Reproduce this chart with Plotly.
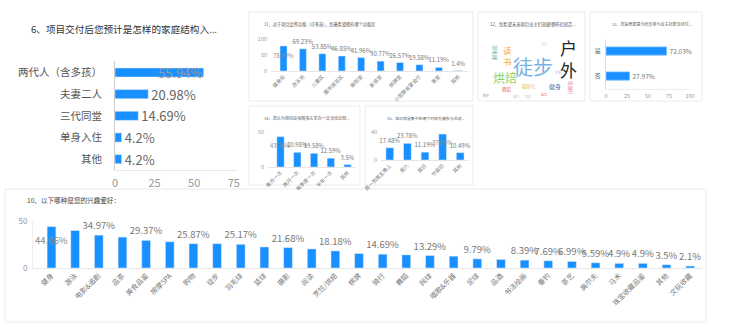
import plotly.graph_objects as go

W, H = 740, 327
BLUE = "#1890ff"
FONT = "Noto Sans CJK SC"

# ---- survey data ----
fam_cats = ["两代人（含多孩）", "夫妻二人", "三代同堂", "单身入住", "其他"]
fam_pct = [55.94, 20.98, 14.69, 4.2, 4.2]

venue_cats = ["健身房", "游泳池", "儿童区", "图书阅览区", "瑜伽室", "影音室",
              "棋牌室", "小型聚会宴会厅", "茶室", "其他"]
venue_pct = [78.32, 69.23, 53.85, 46.85, 41.96, 30.77, 26.57, 19.58, 11.19, 1.4]

club_words = ["户外", "徒步", "烘焙", "读书", "羽毛球", "舞蹈", "摄影社", "健身",
              "瑜伽社", "跑步", "钓鱼", "篮球", "茶艺", "书法", "骑行"]
club_weight = [17, 20, 12, 8.5, 5, 4.5, 4.5, 6, 4.5, 3, 3, 3, 3, 3, 3]

join_cats = ["是", "否"]
join_pct = [72.03, 27.97]

freq_cats = ["每月一次", "两月一次", "每季度一次", "半年一次", "其他"]
freq_pct = [43.36, 20.98, 19.58, 12.59, 3.5]

time_cats = ["周一到周五晚上", "周六", "周日", "节假日", "其他"]
time_pct = [17.48, 23.78, 11.19, 37.06, 10.49]

hobby_cats = ["健身", "游泳", "电影&追剧", "品茶", "美食品鉴", "按摩SPA", "购物", "徒步",
              "羽毛球", "篮球", "摄影", "阅读", "烹饪/烘焙", "棋牌", "骑行", "舞蹈",
              "网球", "唱歌&乐器", "足球", "品酒", "书法绘画", "垂钓", "茶艺", "高尔夫",
              "马术", "珠宝收藏品鉴", "其他", "文玩收藏"]
hobby_pct = [44.06, 39.86, 34.97, 32.87, 29.37, 27.97, 25.87, 25.87, 25.17, 22.38,
             21.68, 20.28, 18.18, 15.38, 14.69, 13.99, 13.29, 12.59, 9.79, 9.09,
             8.39, 7.69, 6.99, 5.59, 4.9, 4.9, 3.5, 2.1]

titles = {
    "t6": "6、项目交付后您预计是怎样的家庭结构入...",
    "t11": "11、对于项目会所功能（可多选），您最希望拥有哪个功能区",
    "t12": "12、您希望未来项目业主们创建哪些社团活...",
    "t13": "13、您是否愿意为同步参与业主社群活动付...",
    "t14": "14、您认为项目应每隔多久举办一次活动比较...",
    "t15": "15、您日常是集中在哪个时间方便参与活动...",
    "t10": "10、以下哪种是您的兴趣爱好：",
}


def px_x(x0, x1):
    return [x0 / W, x1 / W]


def px_y(y0, y1):
    return [1 - y1 / H, 1 - y0 / H]


def pct(v):
    return f"{v:g}%"


fig = go.Figure()
annotations = []
axes = {}


def add_title(text, x, y, size, color="#444"):
    annotations.append(dict(x=x / W, y=1 - y / H, xref="paper", yref="paper",
                            text=text, showarrow=False, xanchor="left", yanchor="middle",
                            font=dict(size=size, color=color)))


# ---- 6: family structure (horizontal bars) ----
imax = fam_pct.index(max(fam_pct))
fig.add_trace(go.Bar(
    y=fam_cats, x=fam_pct, orientation="h", xaxis="x", yaxis="y",
    marker_color=BLUE, width=0.42,
    text=["" if i == imax else pct(v) for i, v in enumerate(fam_pct)],
    textposition="outside", textangle=0, constraintext="none", cliponaxis=False,
    textfont=dict(size=13, color="#666"), hoverinfo="skip"))
annotations.append(dict(x=fam_pct[imax], y=fam_cats[imax], xref="x", yref="y",
                        text=pct(fam_pct[imax]), showarrow=False, xanchor="right",
                        yanchor="middle", font=dict(size=13, color="#9a9a9a")))
axes["xaxis"] = dict(domain=px_x(115, 237), range=[0, 77], tickvals=[0, 25, 50, 75],
                     anchor="y", showgrid=False, zeroline=False, showline=True,
                     linecolor="#e6e6e6", tickfont=dict(size=11, color="#999"),
                     ticklabelstandoff=3, automargin=False)
axes["yaxis"] = dict(domain=px_y(61, 170), type="category", autorange="reversed",
                     anchor="x", showgrid=False, zeroline=False, showline=True,
                     linecolor="#cccccc", tickfont=dict(size=10.5, color="#555"),
                     ticklabelstandoff=10, automargin=False)
add_title(titles["t6"], 29, 29, 9.6, "#333")


def column_chart(n, cats, vals, xdom, ydom, yrange, ytick, width, lab_size,
                 cat_size, tick_size, top_shift, shown=None, yline=False):
    ax = str(n)
    im = vals.index(max(vals))
    texts = []
    for i, v in enumerate(vals):
        if i == im or (shown is not None and not shown[i]):
            texts.append("")
        else:
            texts.append(pct(v))
    fig.add_trace(go.Bar(
        x=cats, y=vals, xaxis="x" + ax, yaxis="y" + ax, marker_color=BLUE,
        width=width, text=texts, textposition="outside", textangle=0,
        constraintext="none", cliponaxis=False,
        textfont=dict(size=lab_size, color="#777"), hoverinfo="skip"))
    annotations.append(dict(x=cats[im], y=vals[im], xref="x" + ax, yref="y" + ax,
                            text=pct(vals[im]), showarrow=False, yanchor="top",
                            yshift=-top_shift, font=dict(size=lab_size, color="#8a8a8a")))
    axes["xaxis" + ax] = dict(domain=xdom, anchor="y" + ax, type="category",
                              tickangle=-45, tickfont=dict(size=cat_size, color="#777"),
                              showline=True, linecolor="#e6e6e6", showgrid=False,
                              zeroline=False, ticks="", automargin=False)
    axes["yaxis" + ax] = dict(domain=ydom, anchor="x" + ax, range=yrange,
                              tickvals=ytick, showgrid=False, zeroline=False,
                              showline=yline, linecolor="#eeeeee",
                              tickfont=dict(size=tick_size, color="#999"),
                              ticklabelstandoff=3, automargin=False)


# ---- 11: preferred facilities ----
column_chart(2, venue_cats, venue_pct, px_x(271, 468), px_y(39, 71), [0, 100],
             [0, 50, 100], 0.36, 6, 5, 5.5, 3)
add_title(titles["t11"], 262, 24, 4.2, "#555")

# ---- 12: club word cloud ----
axes["xaxis3"] = dict(domain=px_x(478, 585), range=[0, 107], visible=False,
                      anchor="y3", automargin=False)
axes["yaxis3"] = dict(domain=px_y(30, 100), range=[70, 0], visible=False,
                      anchor="x3", automargin=False)
fig.add_trace(go.Scatter(x=[None], y=[None], xaxis="x3", yaxis="y3",
                         mode="markers", hoverinfo="skip"))
# word placement inside the cloud box: (x, y, angle, colour, stacked)
cloud_layout = {
    "户外": (90, 28, 0, "#222222", True),
    "徒步": (55, 36, 0, "#7ab2e3", False),
    "烘焙": (27, 47, 0, "#8fd35c", False),
    "读书": (30, 25.5, 0, "#f5a54a", True),
    "羽毛球": (18, 23, 90, "#4aa3a0", False),
    "舞蹈": (29, 59, 0, "#e86a6a", False),
    "摄影社": (51, 56, 0, "#e8c24a", False),
    "健身": (77, 56, 0, "#4a6fa5", False),
    "瑜伽社": (93, 58, 90, "#e27a95", False),
    "跑步": (8, 65, 0, "#9a9a9a", False),
    "钓鱼": (50, 66, 0, "#c9c9c9", False),
    "篮球": (66, 64, 0, "#f08080", False),
    "茶艺": (80, 42, 0, "#9cc7ee", False),
    "书法": (66, 14, 0, "#cccccc", False),
    "骑行": (38, 66, 0, "#d8b4e2", False),
}
for word, wt in zip(club_words, club_weight):
    x, y, ang, col, stacked = cloud_layout[word]
    txt = "<br>".join(word) if stacked else word
    annotations.append(dict(x=x, y=y, xref="x3", yref="y3", text=txt, showarrow=False,
                            textangle=ang, font=dict(size=wt, color=col),
                            xanchor="center", yanchor="middle"))
add_title(titles["t12"], 488, 24, 4.3, "#555")

# ---- 13: willingness (horizontal bars) ----
fig.add_trace(go.Bar(
    y=join_cats, x=join_pct, orientation="h", xaxis="x4", yaxis="y4",
    marker=dict(color=BLUE, line=dict(color="#7cc0ff", width=0.8)), width=0.33,
    text=[pct(v) for v in join_pct], textposition="outside", textangle=0,
    constraintext="none", cliponaxis=False,
    textfont=dict(size=6.5, color="#777"), hoverinfo="skip"))
axes["xaxis4"] = dict(domain=px_x(606, 690), range=[0, 100],
                      tickvals=[0, 25, 50, 75, 100], anchor="y4", showgrid=False,
                      zeroline=False, showline=True, linecolor="#eeeeee",
                      tickfont=dict(size=5.5, color="#999"), ticklabelstandoff=2,
                      automargin=False)
axes["yaxis4"] = dict(domain=px_y(38.5, 88.5), type="category", autorange="reversed",
                      anchor="x4", showgrid=False, zeroline=False, showline=True,
                      linecolor="#dddddd", tickfont=dict(size=6, color="#666"),
                      ticklabelstandoff=3, automargin=False)
add_title(titles["t13"], 610, 24, 4.0, "#555")

# ---- 14: activity frequency ----
column_chart(5, freq_cats, freq_pct, px_x(268, 356), px_y(132, 167), [0, 50],
             [0, 50], 0.44, 5.9, 5, 5.5, 2)
add_title(titles["t14"], 262, 118, 4.1, "#555")

# ---- 15: available time ----
column_chart(6, time_cats, time_pct, px_x(381, 469), px_y(132, 160), [0, 40],
             [0, 40], 0.44, 6.0, 5, 5.5, 2)
add_title(titles["t15"], 385, 118, 3.9, "#555")

# ---- 10: hobbies ----
hobby_shown = [i % 2 == 0 or i >= 20 for i in range(len(hobby_pct))]
column_chart(7, hobby_cats, hobby_pct, px_x(33, 702), px_y(221, 268), [0, 50],
             [0, 50], 0.37, 9.5, 7, 8, 4, shown=hobby_shown, yline=True)
add_title(titles["t10"], 25, 200, 6.6, "#444")

# ---- card backgrounds ----
cards = [(249, 12, 473, 101), (478, 12, 585, 101), (590, 12, 702, 101),
         (249, 106, 360, 185), (365, 106, 473, 185), (5, 189, 706, 322)]
shapes = []
for x0, y0, x1, y1 in cards:
    shapes.append(dict(type="rect", xref="paper", yref="paper", layer="below",
                       x0=x0 / W, x1=x1 / W, y0=1 - y1 / H, y1=1 - y0 / H,
                       fillcolor="#ffffff", line=dict(color="#ebebeb", width=1)))

fig.update_layout(
    width=W, height=H, margin=dict(l=0, r=0, t=0, b=0, autoexpand=False),
    paper_bgcolor="#ffffff", plot_bgcolor="rgba(0,0,0,0)",
    font=dict(family=FONT), showlegend=False, bargap=0.5,
    annotations=annotations, shapes=shapes, **axes)

fig.write_html("out.html")
